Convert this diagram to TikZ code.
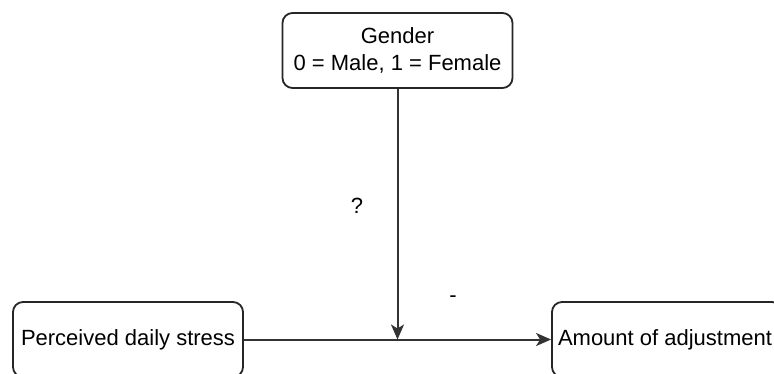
\documentclass[tikz,border=0pt]{standalone}
\usepackage{fontspec}
\setmainfont{Liberation Sans}
\usetikzlibrary{arrows.meta}
\begin{document}
\begin{tikzpicture}[x=1pt,y=-1pt,
  box/.style={draw=black!85, line width=1.8pt, rounded corners=10pt, minimum width=230pt, minimum height=75pt, inner sep=0pt, align=center, font=\fontsize{22}{27}\selectfont},
  conn/.style={draw=black!80, line width=2pt, -{Stealth[length=15pt,width=13pt,inset=4pt]}},
  lbl/.style={font=\fontsize{22}{27}\selectfont, inner sep=0pt}]
\useasboundingbox (0,0) rectangle (774,373);
\clip (0,0) rectangle (774,373);
\node[box] (g) at (397.5,50.5) {Gender\\0 = Male, 1 = Female};
\node[box] (s) at (128,339.5) {Perceived daily stress};
\node[box] (a) at (667,339.5) {\hspace*{-4pt}Amount of adjustment};
\coordinate (j) at (397.5,339.5);
\draw[conn] (g) -- (j);
\draw[conn] (s) -- (a);
\node[lbl] (q) at (357,206) {?};
\node[lbl] (m) at (453,299) {-};
\end{tikzpicture}
\end{document}
